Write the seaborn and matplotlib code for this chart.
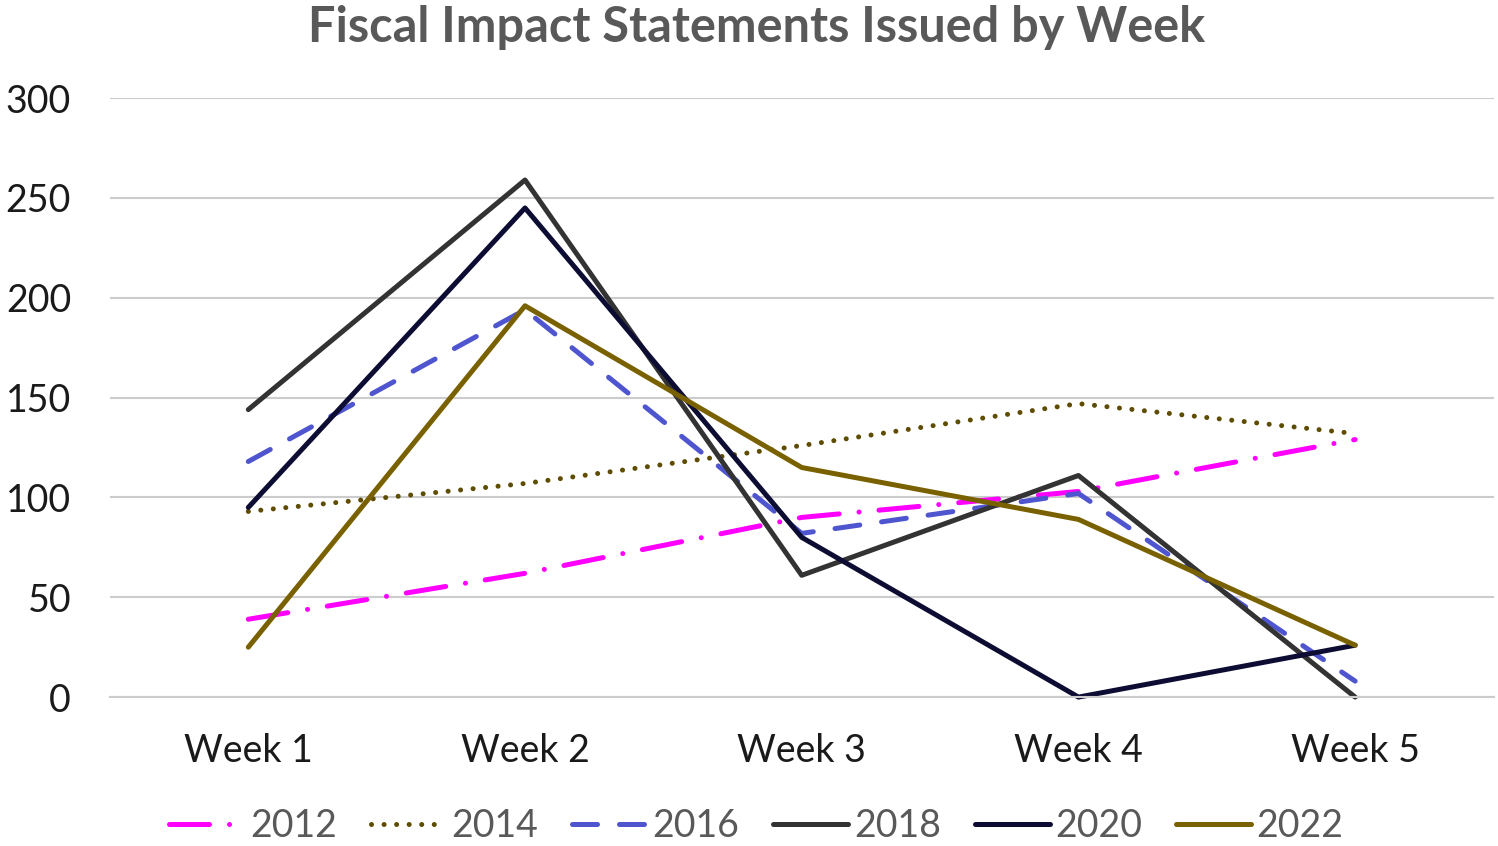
import matplotlib
matplotlib.use("Agg")
import matplotlib.pyplot as plt
import seaborn as sns
import pandas as pd

weeks = ["Week 1", "Week 2", "Week 3", "Week 4", "Week 5"]
years = ["2012", "2014", "2016", "2018", "2020", "2022"]
v2012 = [39, 62, 90, 103, 129]
v2014 = [93, 107, 126, 147, 132]
v2016 = [118, 194, 82, 102, 8]
v2018 = [144, 259, 61, 111, 0]
v2020 = [95, 245, 80, 0, 26]
v2022 = [25, 196, 115, 89, 26]

colors = {"2012": "#FF00FF", "2014": "#5E4C00", "2016": "#4F55CF",
          "2018": "#333333", "2020": "#0D0D33", "2022": "#7A6100"}
dashes = {"2012": (8, 4, 0.01, 4), "2014": (0.01, 2.5), "2016": (5, 4.4),
          "2018": "", "2020": "", "2022": ""}

rows = []
for y, vals in zip(years, [v2012, v2014, v2016, v2018, v2020, v2022]):
    for w, v in zip(weeks, vals):
        rows.append({"week": w, "year": y, "value": v})
df = pd.DataFrame(rows)

sns.set_style("white")
plt.rcParams['font.family'] = ['Lato', 'DejaVu Sans']

LW = 3.6

fig = plt.figure(figsize=(14.98, 8.46), dpi=100)
ax = fig.add_axes([0.0734, 0.176, 0.9236, 0.708])
sns.lineplot(data=df, x="week", y="value", hue="year", style="year",
             palette=colors, dashes=dashes, ax=ax, sort=False, legend=True,
             linewidth=LW)
for line in ax.lines:
    line.set_linewidth(LW)
    line.set_dash_capstyle("round")
    line.set_solid_capstyle("round")
    line.set_clip_on(False)

ax.set_xlim(-0.5, 4.5)
ax.set_ylim(0, 300)
ax.set_yticks(range(0, 301, 50))
ax.yaxis.grid(True, color="#CCCCCC", linewidth=1.5)
ax.set_axisbelow(True)
for s in ["top", "right", "left"]:
    ax.spines[s].set_visible(False)
ax.spines["bottom"].set_color("#CCCCCC")
ax.spines["bottom"].set_linewidth(1.5)
ax.set_xlabel("")
ax.set_ylabel("")
ax.tick_params(axis="both", length=0, labelsize=27, labelcolor="#1a1a1a")
ax.tick_params(axis="x", pad=26)
ax.tick_params(axis="y", pad=28)

fig.suptitle("Fiscal Impact Statements Issued by Week", fontsize=35,
             fontweight="bold", color="#595959", x=0.505, y=0.994)

handles, labels = ax.get_legend_handles_labels()
if ax.get_legend() is not None:
    ax.get_legend().remove()
for h in handles:
    h.set_linewidth(LW)
    h.set_dash_capstyle("round")
    h.set_solid_capstyle("round")
fig.legend(handles, labels, loc="center", bbox_to_anchor=(0.505, 0.024),
           ncol=6, frameon=False, fontsize=27, labelcolor="#595959",
           handlelength=2.0, handletextpad=0.15, columnspacing=0.9)

plt.savefig("out.png", dpi=100)
